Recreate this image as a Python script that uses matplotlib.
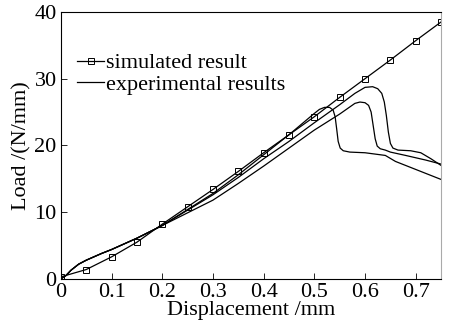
import matplotlib.pyplot as plt
import numpy as np

# simulated result (markers every 0.05 mm)
sim_x = [0, 0.05, 0.1, 0.15, 0.2, 0.25, 0.3, 0.35, 0.4, 0.45, 0.5, 0.55, 0.6, 0.65, 0.7, 0.75]
sim_y = [0.3, 1.4, 3.3, 5.5, 8.2, 10.8, 13.4, 16.1, 18.9, 21.6, 24.3, 27.2, 30.0, 32.8, 35.7, 38.5]

# experimental results, three specimens
exp_a_x = [0, 0.01, 0.02, 0.035, 0.05, 0.08, 0.1, 0.15, 0.2, 0.25, 0.3, 0.35, 0.4, 0.45, 0.5,
           0.51, 0.52, 0.53, 0.537, 0.541, 0.544, 0.547, 0.551, 0.557, 0.57, 0.6, 0.64,
           0.66, 0.7, 0.72, 0.75]
exp_a_y = [0, 0.5, 1.3, 2.2, 2.8, 3.8, 4.4, 6.1, 8.0, 10.4, 12.8, 15.6, 18.6, 21.6, 24.8,
           25.4, 25.7, 25.7, 25.3, 24.3, 22.5, 20.6, 19.6, 19.2, 19.0, 18.9, 18.5,
           17.6, 16.4, 15.8, 14.9]

exp_b_x = [0, 0.01, 0.02, 0.035, 0.05, 0.08, 0.1, 0.15, 0.2, 0.25, 0.3, 0.35, 0.4, 0.45, 0.5,
           0.55, 0.58, 0.6, 0.615, 0.625, 0.633, 0.638, 0.642, 0.646, 0.65, 0.655, 0.665,
           0.69, 0.71, 0.73, 0.75]
exp_b_y = [0, 0.5, 1.3, 2.2, 2.8, 3.8, 4.4, 6.1, 8.0, 10.3, 12.6, 15.2, 18.0, 20.6, 23.4,
           26.1, 27.8, 28.7, 28.8, 28.5, 27.8, 26.5, 24.5, 22.0, 20.3, 19.6, 19.3,
           19.2, 18.9, 18.0, 17.0]

exp_c_x = [0, 0.01, 0.02, 0.035, 0.05, 0.08, 0.1, 0.15, 0.2, 0.25, 0.3, 0.35, 0.4, 0.45, 0.5,
           0.55, 0.58, 0.59, 0.6, 0.607, 0.612, 0.616, 0.62, 0.624, 0.63, 0.64, 0.65,
           0.68, 0.72, 0.75]
exp_c_y = [0, 0.5, 1.3, 2.2, 2.8, 3.8, 4.4, 6.1, 8.0, 9.9, 11.8, 14.3, 16.9, 19.6, 22.3,
           24.7, 26.3, 26.5, 26.4, 26.0, 25.0, 23.0, 21.0, 19.9, 19.5, 19.3, 19.0,
           18.5, 17.8, 17.2]

plt.rcParams['font.family'] = ['Liberation Serif']
plt.rcParams['font.size'] = 16

fig = plt.figure(figsize=(4.51, 3.32), dpi=100)
ax = fig.add_axes([0.135, 0.16, 0.843, 0.804])

ax.plot(sim_x, sim_y, color='black', lw=0.9, marker='s', ms=4, mfc='none', mew=0.7,
        label='simulated result')
ax.plot(exp_a_x, exp_a_y, color='black', lw=0.9, label='experimental results')
ax.plot(exp_b_x, exp_b_y, color='black', lw=0.9)
ax.plot(exp_c_x, exp_c_y, color='black', lw=0.9)

ax.set_xlim(0, 0.75)
ax.set_ylim(0, 40)
ax.set_xticks([0, 0.1, 0.2, 0.3, 0.4, 0.5, 0.6, 0.7])
ax.set_xticklabels(['0', '0.1', '0.2', '0.3', '0.4', '0.5', '0.6', '0.7'])
ax.set_yticks([0, 10, 20, 30, 40])
ax.tick_params(direction='in', length=4, width=0.6)
ax.tick_params(axis='x', pad=3)
ax.tick_params(axis='y', pad=3)
ax.spines['right'].set_color('#aaaaaa')
for s in ['left', 'bottom', 'top']:
    ax.spines[s].set_linewidth(0.8)

ax.set_xlabel('Displacement /mm', labelpad=-1)
ax.set_ylabel('Load /(N/mm)', labelpad=2)

ax.legend(loc='upper left', bbox_to_anchor=(0.02, 0.88), frameon=False,
          handlelength=1.2, handletextpad=0.1, labelspacing=0.05, borderaxespad=0)

fig.savefig('out.png', dpi=100)
